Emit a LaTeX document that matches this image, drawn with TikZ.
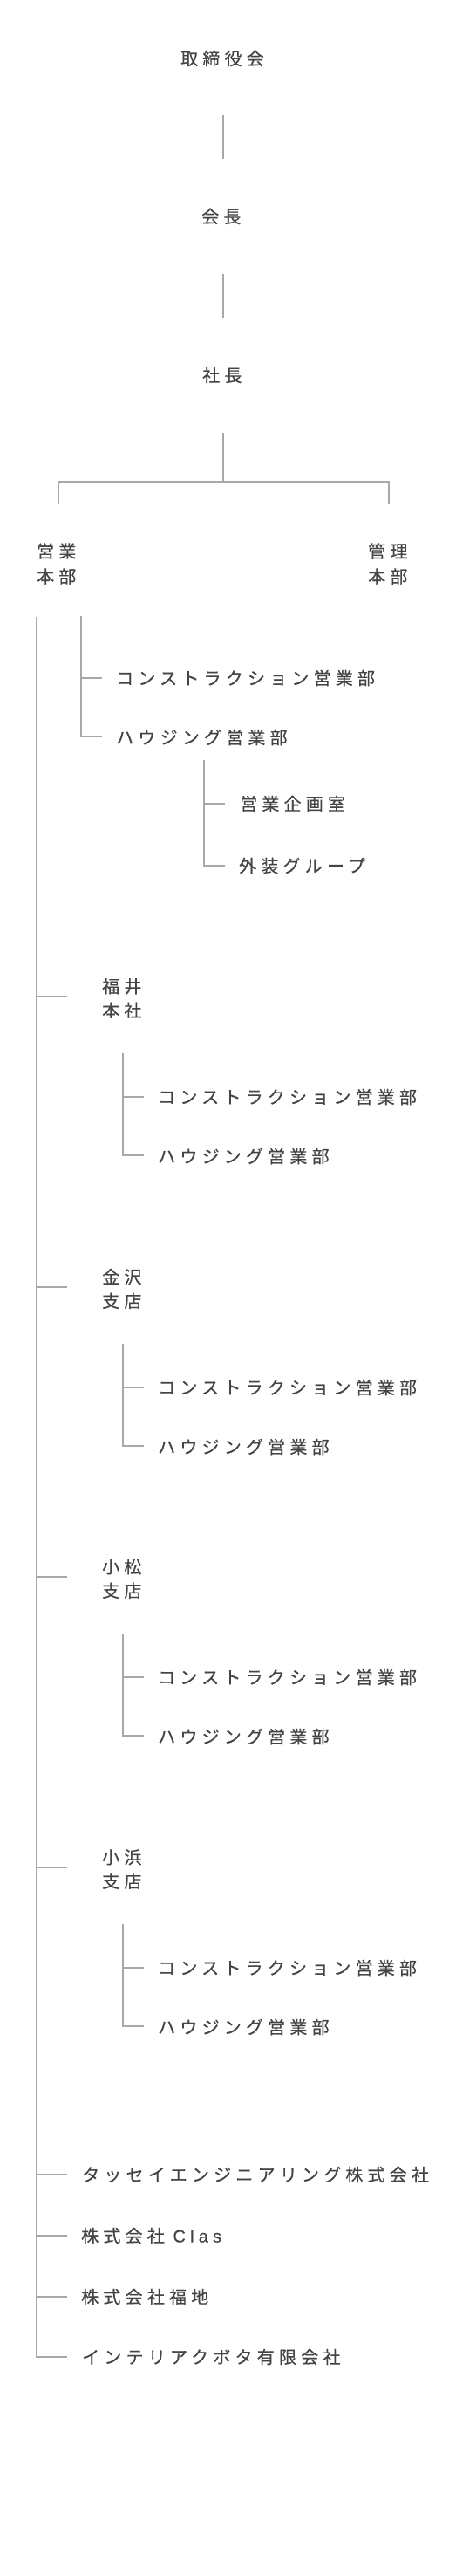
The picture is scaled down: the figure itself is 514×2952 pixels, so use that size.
\documentclass[tikz,border=0pt]{standalone}
\usepackage{fontspec}
\newfontfamily\jp[LetterSpace=26,FakeBold=0.4]{Noto Sans CJK JP}
\newfontfamily\lat[LetterSpace=26,FakeBold=0.4]{Liberation Sans}
\definecolor{txt}{HTML}{444444}
\definecolor{ln}{HTML}{A8A8A8}
\tikzset{
  lbl/.style={font=\jp\fontsize{20}{28}\selectfont, text=txt, inner sep=0pt, anchor=west},
  twolbl/.style={font=\jp\fontsize{20}{29}\selectfont, text=txt, inner sep=0pt, align=left},
  twolblb/.style={font=\jp\fontsize{20}{27.5}\selectfont, text=txt, inner sep=0pt, align=left, anchor=west},
  conn/.style={draw=ln, line width=1.5pt}
}
\begin{document}
\begin{tikzpicture}[x=1pt,y=-1pt]
\useasboundingbox[fill=white] (0,0) rectangle (514,2952);

% top chain
\node[lbl] (board) at (207,67) {取締役会};
\node[lbl] (chair) at (231,248) {会長};
\node[lbl] (pres) at (232,430) {社長};
\coordinate (c1a) at (256,132); \coordinate (c1b) at (256,182);
\coordinate (c2a) at (256,314); \coordinate (c2b) at (256,364);
\coordinate (c3a) at (256,496); \coordinate (c3b) at (256,552);
\draw[conn] (c1a) -- (c1b);
\draw[conn] (c2a) -- (c2b);
\draw[conn] (c3a) -- (c3b);

% split
\coordinate (hl) at (67,552); \coordinate (hr) at (446,552);
\coordinate (hlb) at (67,578); \coordinate (hrb) at (446,578);
\draw[conn] (hlb) -- (hl) -- (hr) -- (hrb);
\node[twolbl, anchor=west] (sales) at (42,646) {営業\\本部};
\node[twolbl, anchor=west] (admin) at (422,646) {管理\\本部};

% main vertical
\coordinate (mtop) at (42,707);
\coordinate (mbot) at (42,2701);
\coordinate (mend) at (77,2701);
\draw[conn] (mtop) -- (mbot) -- (mend);

% HQ direct departments
\coordinate (s1top) at (93,706);
\coordinate (s1mid) at (93,777);
\coordinate (s1bot) at (93,844);
\node[lbl] (hqcon) at (133,777) {コンストラクション営業部};
\node[lbl] (hqhou) at (133,845) {ハウジング営業部};
\draw[conn] (s1top) -- (s1bot) -- ++(24,0);
\draw[conn] (s1mid) -- ++(24,0);

\coordinate (s2top) at (234,871);
\coordinate (s2mid) at (234,921);
\coordinate (s2bot) at (234,992);
\node[lbl] (plan) at (275,921) {営業企画室};
\node[lbl] (ext) at (274,992) {外装グループ};
\draw[conn] (s2top) -- (s2bot) -- ++(24,0);
\draw[conn] (s2mid) -- ++(24,0);

% branches
\foreach \B/\a/\b/\nm in {1142/福井/本社/fukui, 1475/金沢/支店/kanazawa, 1807/小松/支店/komatsu, 2140/小浜/支店/obama}{
  \coordinate (\nm-j) at (42,\B);
  \coordinate (\nm-e) at (77,\B);
  \draw[conn] (\nm-j) -- (\nm-e);
  \node[twolblb] (\nm) at (117,\B+2) {\a\\\b};
  \coordinate (\nm-t) at (141,\B+65);
  \coordinate (\nm-m) at (141,\B+115);
  \coordinate (\nm-b) at (141,\B+182);
  \draw[conn] (\nm-t) -- (\nm-b) -- ++(24,0);
  \draw[conn] (\nm-m) -- ++(24,0);
  \node[lbl] (\nm-con) at (181,\B+115) {コンストラクション営業部};
  \node[lbl] (\nm-hou) at (181,\B+183) {ハウジング営業部};
}

% affiliates
\foreach \y/\nm in {2492/tassei, 2562/clas, 2632/fukuchi}{
  \coordinate (\nm-j) at (42,\y);
  \draw[conn] (\nm-j) -- ++(35,0);
}
\node[lbl] (tassei) at (94,2492) {タッセイエンジニアリング株式会社};
\node[lbl] (clas) at (93,2562) {株式会社 {\lat Clas}};
\node[lbl] (fukuchi) at (93,2632) {株式会社福地};
\node[lbl] (kubota) at (94,2701) {インテリアクボタ有限会社};
\end{tikzpicture}
\end{document}
